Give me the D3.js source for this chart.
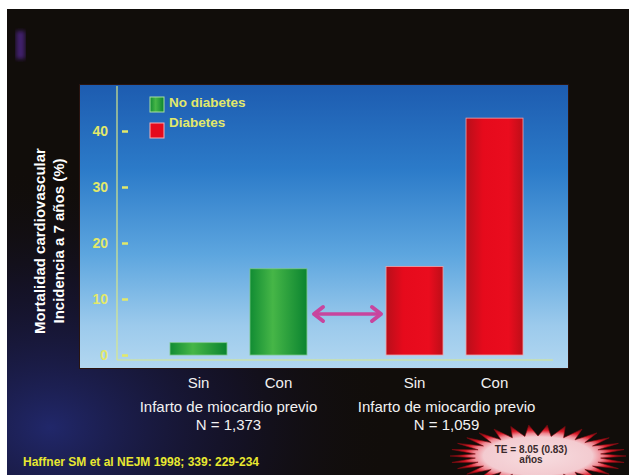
<!DOCTYPE html>
<html>
<head>
<meta charset="utf-8">
<script src="https://cdn.jsdelivr.net/npm/d3@7"></script>
<style>
  html, body { margin: 0; padding: 0; background: #110d0a; }
  svg { display: block; }
  text { font-family: "Liberation Sans", Arial, sans-serif; }
</style>
</head>
<body>
<svg id="chart" width="629" height="475"></svg>
<script>
// Cardiovascular mortality, 7-year incidence (%)
const groups = ["No diabetes", "Diabetes"];
const categories = ["Sin", "Con"];
const noDiabetesValues = [2.2, 15.4];
const diabetesValues = [15.8, 42.3];
const yTicks = [0, 10, 20, 30, 40];
const groupCaptions = ["Infarto de miocardio previo", "Infarto de miocardio previo"];
const groupSizes = ["N = 1,373", "N = 1,059"];
const yTitle = ["Mortalidad cardiovascular", "Incidencia a 7 años (%)"];
const citation = "Haffner SM et al NEJM 1998; 339: 229-234";
const badgeLines = ["TE = 8.05 (0.83)", "años"];

const seriesValues = [noDiabetesValues, diabetesValues];
const rows = groups.flatMap((g, gi) =>
  categories.map((c, ci) => ({ group: g, cat: c, value: seriesValues[gi][ci] })));

const svg = d3.select("#chart");
const W = 629, H = 475;
const defs = svg.append("defs");

// ---------- gradients ----------
const glow = defs.append("radialGradient").attr("id", "glow")
  .attr("cx", "0.08").attr("cy", "0.9").attr("r", "0.55");
glow.append("stop").attr("offset", "0%").attr("stop-color", "#26308a").attr("stop-opacity", 0.75);
glow.append("stop").attr("offset", "55%").attr("stop-color", "#1a1a55").attr("stop-opacity", 0.35);
glow.append("stop").attr("offset", "100%").attr("stop-color", "#110d0a").attr("stop-opacity", 0);

const panelGrad = defs.append("linearGradient").attr("id", "panel")
  .attr("x1", 0).attr("y1", 0).attr("x2", 0).attr("y2", 1);
[["0%", "#1d5cb0"], ["30%", "#2c7bc9"], ["60%", "#5da6df"], ["85%", "#9ccaec"], ["100%", "#b2d7f0"]]
  .forEach(([o, c]) => panelGrad.append("stop").attr("offset", o).attr("stop-color", c));

const greenGrad = defs.append("linearGradient").attr("id", "green")
  .attr("x1", 0).attr("y1", 0).attr("x2", 1).attr("y2", 0);
[["0%", "#118c33"], ["40%", "#46b647"], ["100%", "#0b8430"]]
  .forEach(([o, c]) => greenGrad.append("stop").attr("offset", o).attr("stop-color", c));

const redGrad = defs.append("linearGradient").attr("id", "red")
  .attr("x1", 0).attr("y1", 0).attr("x2", 1).attr("y2", 0);
[["0%", "#b80f1a"], ["30%", "#e60a1c"], ["75%", "#ea0c1e"], ["100%", "#bd0e18"]]
  .forEach(([o, c]) => redGrad.append("stop").attr("offset", o).attr("stop-color", c));

const burstGrad = defs.append("radialGradient").attr("id", "burst");
[["0%", "#f7dde0"], ["62%", "#f3cbd0"], ["73%", "#ef8a94"], ["84%", "#dc1a28"], ["100%", "#6a080c"]]
  .forEach(([o, c]) => burstGrad.append("stop").attr("offset", o).attr("stop-color", c));

defs.append("filter").attr("id", "soft")
  .append("feGaussianBlur").attr("stdDeviation", 2);

// ---------- backdrop ----------
svg.append("rect").attr("width", W).attr("height", H).attr("fill", "#110d0a");
svg.append("rect").attr("width", W).attr("height", H).attr("fill", "url(#glow)");
svg.append("rect").attr("x", 0).attr("y", 0).attr("width", W).attr("height", 9).attr("fill", "#ffffff");
svg.append("rect").attr("x", 0).attr("y", 0).attr("width", 7).attr("height", H).attr("fill", "#ffffff");
svg.append("rect").attr("x", 16).attr("y", 31).attr("width", 9).attr("height", 28)
  .attr("fill", "#5a2aa0").attr("opacity", 0.65).attr("filter", "url(#soft)");

// ---------- plot panel ----------
svg.append("rect").attr("x", 79).attr("y", 84).attr("width", 490).attr("height", 285)
  .attr("fill", "#2a1410");
svg.append("rect").attr("x", 80).attr("y", 85).attr("width", 488).attr("height", 283)
  .attr("fill", "url(#panel)");

// ---------- scales ----------
const y = d3.scaleLinear().domain([0, 40]).range([355, 131]);
const xGroup = d3.scaleBand().domain(groups).range([170, 523])
  .paddingInner(0.366).paddingOuter(0);
const xCat = d3.scaleBand().domain(categories).range([0, xGroup.bandwidth()])
  .paddingInner(0.2875).paddingOuter(0);
const barX = d => xGroup(d.group) + xCat(d.cat);
const barCenter = d => barX(d) + xCat.bandwidth() / 2;

// ---------- axes ----------
const axisColor = "#e2e86a";
svg.append("line").attr("x1", 117).attr("x2", 117).attr("y1", 86).attr("y2", 360)
  .attr("stroke", "#d8e88a").attr("stroke-width", 1.2);
svg.append("line").attr("x1", 117).attr("x2", 553).attr("y1", 360).attr("y2", 360)
  .attr("stroke", "#d8e88a").attr("stroke-width", 1.2);

const yAxis = svg.append("g").attr("transform", "translate(128,0)")
  .call(d3.axisLeft(y).tickValues(yTicks).tickSizeInner(6).tickSizeOuter(0).tickPadding(14));
yAxis.select(".domain").remove();
yAxis.selectAll(".tick line").attr("stroke", axisColor).attr("stroke-width", 2.5);
yAxis.selectAll(".tick text")
  .attr("fill", axisColor).attr("font-size", 14).attr("font-weight", "bold")
  .attr("font-family", "'Liberation Sans', Arial, sans-serif");

// ---------- bars ----------
svg.append("g").selectAll("rect").data(rows).join("rect")
  .attr("x", barX)
  .attr("width", xCat.bandwidth())
  .attr("y", d => y(d.value))
  .attr("height", d => y(0) - y(d.value))
  .attr("fill", d => d.group === groups[0] ? "url(#green)" : "url(#red)")
  .attr("stroke", d => d.group === groups[0] ? "#7cc88a" : "#f3a3aa")
  .attr("stroke-width", 0.8);

// ---------- legend ----------
const legend = svg.append("g");
groups.forEach((g, i) => {
  legend.append("rect").attr("x", 150).attr("y", 97 + i * 26).attr("width", 14).attr("height", 15)
    .attr("fill", i === 0 ? "url(#green)" : "#e60a1c")
    .attr("stroke", i === 0 ? "#a8e0a0" : "#f6b0b6").attr("stroke-width", 1);
  legend.append("text").attr("x", 169).attr("y", 107 + i * 20).text(g)
    .attr("fill", axisColor).attr("font-size", 13.5).attr("font-weight", "bold");
});

// ---------- comparison arrow ----------
const arrow = svg.append("g").attr("stroke", "#c8459e").attr("fill", "none")
  .attr("stroke-linecap", "round").attr("stroke-linejoin", "round");
const ay = 314, ax0 = 314, ax1 = 381;
arrow.append("line").attr("x1", ax0 + 2).attr("x2", ax1 - 2).attr("y1", ay).attr("y2", ay).attr("stroke-width", 3.5);
arrow.append("path").attr("d", `M${ax0 + 9},${ay - 7} L${ax0},${ay} L${ax0 + 9},${ay + 7}`).attr("stroke-width", 4);
arrow.append("path").attr("d", `M${ax1 - 9},${ay - 7} L${ax1},${ay} L${ax1 - 9},${ay + 7}`).attr("stroke-width", 4);

// ---------- y title ----------
yTitle.forEach((t, i) => {
  svg.append("text")
    .attr("transform", `translate(${45 + i * 19},241) rotate(-90)`)
    .attr("text-anchor", "middle").attr("fill", "#ffffff")
    .attr("font-size", 15).attr("font-weight", "bold").text(t);
});

// ---------- category & group labels ----------
svg.append("g").selectAll("text").data(rows).join("text")
  .attr("x", barCenter).attr("y", 388)
  .attr("text-anchor", "middle").attr("fill", "#f2f2f2").attr("font-size", 15)
  .text(d => d.cat);

groups.forEach((g, i) => {
  const cx = xGroup(g) + xGroup.bandwidth() / 2 - 10 + i * 2;
  svg.append("text").attr("x", cx).attr("y", 412).attr("text-anchor", "middle")
    .attr("fill", "#f2f2f2").attr("font-size", 15).text(groupCaptions[i]);
  svg.append("text").attr("x", cx).attr("y", 430).attr("text-anchor", "middle")
    .attr("fill", "#f2f2f2").attr("font-size", 15).text(groupSizes[i]);
});

// ---------- citation ----------
svg.append("text").attr("x", 23).attr("y", 466)
  .attr("fill", "#e8e830").attr("font-size", 12).attr("font-weight", "bold")
  .attr("textLength", 236).attr("lengthAdjust", "spacingAndGlyphs")
  .text(citation);

// ---------- starburst badge ----------
const bx = 538, by = 456, spikes = 30;
const burstPts = d3.range(spikes * 2).map(i => {
  const a = i * Math.PI / spikes;
  const outer = i % 2 === 0;
  const rx = outer ? 88 : 63, ry = outer ? 31 : 20;
  return [bx + rx * Math.cos(a), by + ry * Math.sin(a)];
});
svg.append("path")
  .attr("d", d3.line().curve(d3.curveLinearClosed)(burstPts))
  .attr("fill", "url(#burst)").attr("stroke", "#8a0c12").attr("stroke-width", 0.6);
badgeLines.forEach((t, i) => {
  svg.append("text").attr("x", 531).attr("y", 453 + i * 10)
    .attr("text-anchor", "middle").attr("fill", "#3a2a2c")
    .attr("font-size", 10).attr("font-weight", "bold")
    .attr("font-family", "'Liberation Sans Narrow', 'Liberation Sans', Arial, sans-serif")
    .text(t);
});
</script>
</body>
</html>
